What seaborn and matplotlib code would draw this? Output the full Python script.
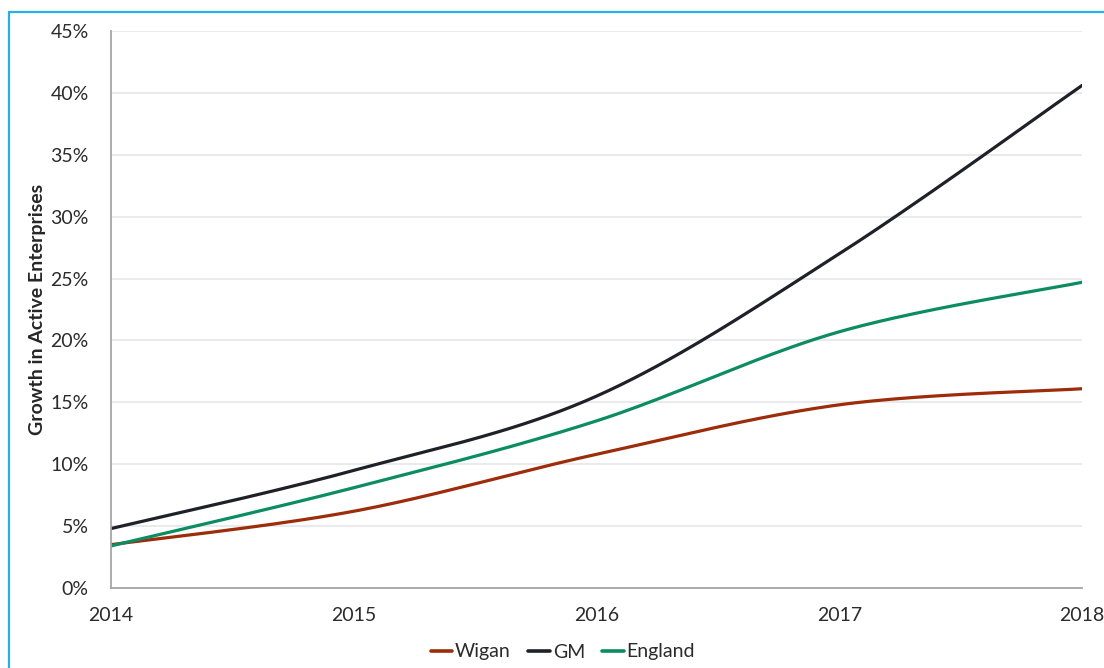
import numpy as np
import pandas as pd
import matplotlib
matplotlib.use("Agg")
import matplotlib.pyplot as plt
from matplotlib.lines import Line2D
from matplotlib.ticker import PercentFormatter
import seaborn as sns

years = [2014, 2015, 2016, 2017, 2018]
wigan = [3.5, 6.2, 10.8, 14.8, 16.1]
gm = [4.8, 9.5, 15.5, 27.0, 40.6]
england = [3.4, 8.1, 13.5, 20.7, 24.7]
series_names = ["Wigan", "GM", "England"]
colors = {"Wigan": "#9C2C0A", "GM": "#1E2228", "England": "#0C8C61"}


def smooth(xs, ys, n=40):
    """Excel-style smoothed line (Catmull-Rom / Bezier) for drawing only."""
    xs = np.asarray(xs, float)
    ys = np.asarray(ys, float)
    px = np.concatenate([[xs[0]], xs, [xs[-1]]])
    py = np.concatenate([[ys[0]], ys, [ys[-1]]])
    outx, outy = [], []
    for i in range(1, len(px) - 2):
        p0 = np.array([px[i], py[i]])
        p3 = np.array([px[i + 1], py[i + 1]])
        c1 = p0 + (np.array([px[i + 1], py[i + 1]]) - np.array([px[i - 1], py[i - 1]])) / 6
        c2 = p3 - (np.array([px[i + 2], py[i + 2]]) - np.array([px[i], py[i]])) / 6
        t = np.linspace(0, 1, n, endpoint=(i == len(px) - 3))
        b = ((1 - t) ** 3)[:, None] * p0 + (3 * (1 - t) ** 2 * t)[:, None] * c1 \
            + (3 * (1 - t) * t ** 2)[:, None] * c2 + (t ** 3)[:, None] * p3
        outx.extend(b[:, 0])
        outy.extend(b[:, 1])
    return outx, outy


frames = []
for name, vals in zip(series_names, [wigan, gm, england]):
    sx, sy = smooth(years, vals)
    frames.append(pd.DataFrame({"Year": sx, "Growth": sy, "Area": name}))
df = pd.concat(frames, ignore_index=True)

sns.set_theme(style="white")
plt.rcParams["font.family"] = ["Lato", "DejaVu Sans"]

fig = plt.figure(figsize=(11.04, 6.68), dpi=100)
ax = fig.add_axes([111 / 1104, 1 - 588 / 668, (1082 - 111) / 1104, (588 - 31) / 668])

sns.lineplot(data=df, x="Year", y="Growth", hue="Area", palette=colors,
             hue_order=series_names, sort=False, linewidth=2.3, ax=ax, legend=False)

ax.set_xlim(2014, 2018)
ax.set_ylim(0, 45)
ax.set_xticks(years)
ax.set_xticklabels([str(y) for y in years])
ax.set_yticks(np.arange(0, 46, 5))
ax.yaxis.set_major_formatter(PercentFormatter(decimals=0))
ax.grid(axis="y", color="#E1E4EA", linewidth=1.1)
ax.set_axisbelow(True)
for s in ["top", "right"]:
    ax.spines[s].set_visible(False)
for s in ["left", "bottom"]:
    ax.spines[s].set_color("#A6A6A6")
    ax.spines[s].set_linewidth(1.3)
ax.tick_params(axis="both", length=0, labelsize=14, colors="#2B2B2B")
ax.tick_params(axis="y", pad=16)
ax.tick_params(axis="x", pad=14)
ax.set_xlabel("")
ax.set_ylabel("Growth in Active Enterprises", fontsize=14, fontweight="bold",
              color="#262626", labelpad=3)

handles = [Line2D([0], [0], color=colors[n], lw=2.6) for n in series_names]
fig.legend(handles, series_names, loc="center", bbox_to_anchor=(563 / 1104, 1 - 652 / 668),
           ncol=3, frameon=False, fontsize=14, handlelength=1.1, handletextpad=0.15,
           columnspacing=0.9, labelcolor="#2B2B2B")

border = "#29B0E0"
fig.add_artist(Line2D([8.5 / 1104, 8.5 / 1104], [0, 1 - 11.5 / 668], transform=fig.transFigure,
                      color=border, lw=1.6))
fig.add_artist(Line2D([8.5 / 1104, 1], [1 - 11.5 / 668, 1 - 11.5 / 668], transform=fig.transFigure,
                      color=border, lw=1.6))

fig.savefig("out.png", dpi=100)
